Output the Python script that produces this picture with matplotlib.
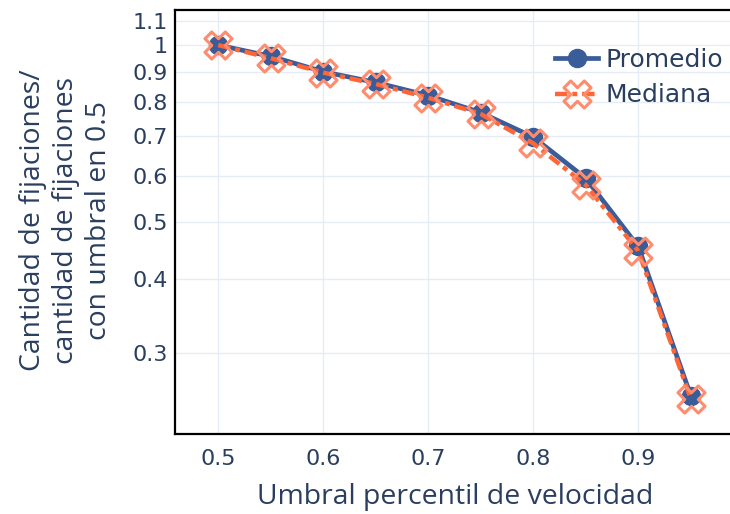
import matplotlib
matplotlib.use("Agg")
import matplotlib.pyplot as plt
from matplotlib.path import Path
from matplotlib.ticker import FixedLocator, NullLocator, FixedFormatter

# Data: normalized fixation counts vs. velocity percentile threshold
umbral = [0.5, 0.55, 0.6, 0.65, 0.7, 0.75, 0.8, 0.85, 0.9, 0.95]
promedio = [1.0, 0.957, 0.901, 0.864, 0.821, 0.768, 0.698, 0.594, 0.455, 0.254]
mediana = [1.0, 0.950, 0.898, 0.859, 0.814, 0.764, 0.681, 0.579, 0.447, 0.251]

y_ticks = [0.3, 0.4, 0.5, 0.6, 0.7, 0.8, 0.9, 1.0, 1.1]
y_tick_labels = ["0.3", "0.4", "0.5", "0.6", "0.7", "0.8", "0.9", "1", "1.1"]
x_ticks = [0.5, 0.6, 0.7, 0.8, 0.9]
x_tick_labels = ["0.5", "0.6", "0.7", "0.8", "0.9"]

TEXT = "#2a3f5f"
GRID = "#e6ecf5"
BLUE = "#3a5c98"
ORANGE = "#ff6535"
ORANGE_MK = "#ff8c6c"

# "x-open" style marker: an X built from square steps
r = 1.0
verts = [(0, r), (r, 2 * r), (2 * r, r), (r, 0), (2 * r, -r), (r, -2 * r),
         (0, -r), (-r, -2 * r), (-2 * r, -r), (-r, 0), (-2 * r, r), (-r, 2 * r),
         (0, r)]
codes = [Path.MOVETO] + [Path.LINETO] * 11 + [Path.CLOSEPOLY]
x_open = Path(verts, codes)

fig = plt.figure(figsize=(7.30, 5.14), dpi=100)
ax = fig.add_axes([175 / 730, 1 - 434 / 514, (734 - 175) / 730, (434 - 10) / 514])

ax.set_yscale("log")
ax.set_ylim(0.2186, 1.147)
ax.set_xlim(0.4588, 0.9912)

ax.yaxis.set_major_locator(FixedLocator(y_ticks))
ax.yaxis.set_major_formatter(FixedFormatter(y_tick_labels))
ax.yaxis.set_minor_locator(NullLocator())
ax.xaxis.set_major_locator(FixedLocator(x_ticks))
ax.xaxis.set_major_formatter(FixedFormatter(x_tick_labels))

ax.grid(True, color=GRID, linewidth=1.0)
ax.set_axisbelow(True)
for side in ["left", "top", "bottom"]:
    ax.spines[side].set_linewidth(1.6)
    ax.spines[side].set_color("black")
ax.spines["right"].set_visible(False)

ax.tick_params(axis="both", length=0, labelsize=16, labelcolor=TEXT)
ax.tick_params(axis="x", pad=11)
ax.tick_params(axis="y", pad=5)

ax.plot(umbral, promedio, color=BLUE, linewidth=3.4, marker="o",
        markersize=13, markerfacecolor=BLUE, markeredgecolor=BLUE,
        label="Promedio", zorder=3, clip_on=False)
ax.plot(umbral, mediana, color=ORANGE, linewidth=3.2, dashes=(2.8, 1.1, 1.1, 1.1),
        marker=x_open, markersize=19.5, markerfacecolor="none",
        markeredgecolor=ORANGE_MK, markeredgewidth=2.2,
        label="Mediana", zorder=4, clip_on=False)

leg = ax.legend(loc="upper right", bbox_to_anchor=(733 / 730, 1 - 38 / 514),
                bbox_transform=fig.transFigure, frameon=False,
                fontsize=18, handlelength=1.7, handletextpad=0.3,
                labelspacing=0.45, borderaxespad=0)
for t in leg.get_texts():
    t.set_color(TEXT)

fig.text(66 / 730, 1 - 220 / 514,
         "Cantidad de fijaciones/\ncantidad de fijaciones\ncon umbral en 0.5",
         rotation=90, ha="center", va="center", multialignment="center",
         fontsize=20.4, color=TEXT, family="Open Sans", linespacing=1.25)
fig.text(455 / 730, 1 - 497 / 514, "Umbral percentil de velocidad",
         ha="center", va="center", fontsize=20.4, color=TEXT, family="Open Sans")

fig.savefig("out.png", dpi=100)
